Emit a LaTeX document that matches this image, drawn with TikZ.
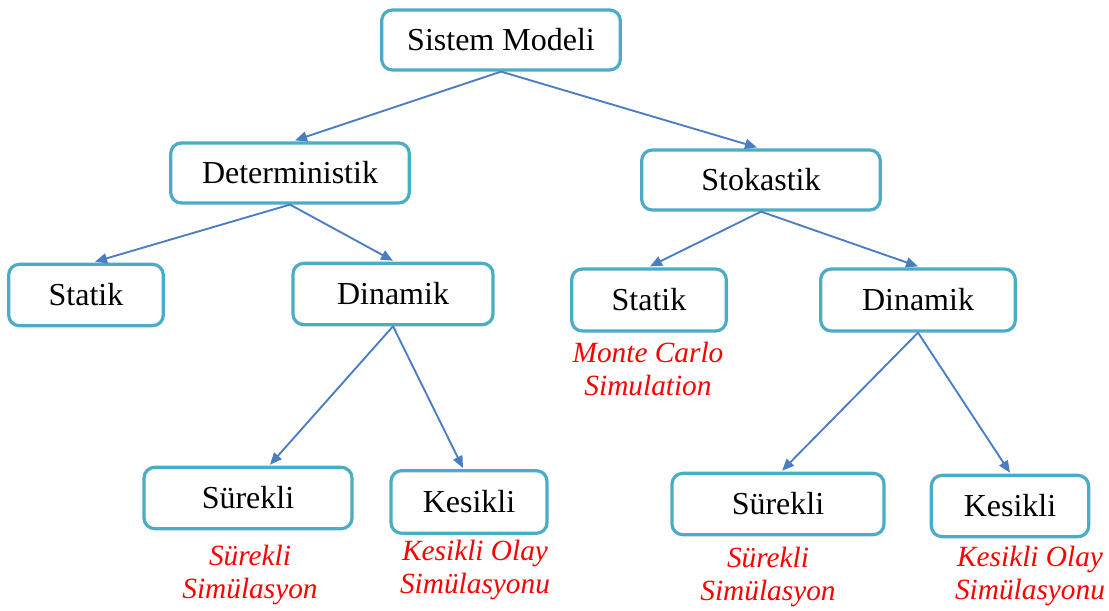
\documentclass[tikz,border=0pt]{standalone}
\usepackage{fontspec}
\setmainfont{Liberation Serif}
\usetikzlibrary{arrows.meta,calc}
\definecolor{boxc}{HTML}{4BACC6}
\definecolor{arrc}{HTML}{4A7EC2}
\definecolor{lblred}{HTML}{FF0000}
\tikzset{
  box/.style={draw=boxc, line width=2.4pt, rounded corners=8pt, fill=white,
    font=\fontsize{24}{28}\selectfont, inner sep=0pt, align=center},
  conn/.style={draw=arrc, line width=1.4pt, -{Triangle[length=9pt,width=7.5pt]}},
  lbl/.style={text=lblred, font=\fontsize{22}{25}\selectfont\itshape, align=center, inner sep=0pt}
}
\begin{document}
\begin{tikzpicture}[x=0.75pt,y=-0.75pt]
\useasboundingbox (0,0) rectangle (1109,610);
% boxes
\node[box, minimum width=179pt, minimum height=45pt] (sm) at (501,40) {Sistem Modeli};
\node[box, minimum width=179pt, minimum height=45pt] (det) at (290,173) {Deterministik};
\node[box, minimum width=179pt, minimum height=45pt] (sto) at (761,180) {Stokastik};
\node[box, minimum width=116pt, minimum height=46pt] (stL) at (86,295) {Statik};
\node[box, minimum width=150pt, minimum height=46pt] (dnL) at (393,294) {Dinamik};
\node[box, minimum width=116pt, minimum height=46.5pt] (stR) at (649,300) {Statik};
\node[box, minimum width=146pt, minimum height=46.5pt] (dnR) at (918,300) {Dinamik};
\node[box, minimum width=156pt, minimum height=46pt] (srL) at (248,498) {Sürekli};
\node[box, minimum width=117pt, minimum height=47pt] (ksL) at (469,502) {Kesikli};
\node[box, minimum width=159pt, minimum height=46pt] (srR) at (778,504) {Sürekli};
\node[box, minimum width=118pt, minimum height=46pt] (ksR) at (1010,506) {Kesikli};
% labels
\node[lbl] (mc) at (648,369) {Monte Carlo\\Simulation};
\node[lbl] (lsL) at (250,575) {Sürekli\\Simülasyon};
\node[lbl] (lkL) at (475,570) {Kesikli Olay\\Simülasyonu};
\node[lbl] (lsR) at (768,577) {Sürekli\\Simülasyon};
\node[lbl] (lkR) at (1030,576) {Kesikli Olay\\Simülasyonu};
% connectors
\draw[conn] (sm.south) -- ($(det.north)+(5,-1)$);
\draw[conn] (sm.south) -- ($(sto.north)+(-4,-1)$);
\draw[conn] (det.south) -- ($(stL.north)+(9,-1)$);
\draw[conn] (det.south) -- ($(dnL.north)+(0,-1)$);
\draw[conn] (sto.south) -- ($(stR.north)+(1,-1)$);
\draw[conn] (sto.south) -- ($(dnR.north)+(0,-1)$);
\draw[conn] (dnL.south) -- ($(srL.north)+(22,-1)$);
\draw[conn] (dnL.south) -- ($(ksL.north)+(-6,-1)$);
\draw[conn] (dnR.south) -- ($(srR.north)+(4,-1)$);
\draw[conn] (dnR.south) -- ($(ksR.north)+(0,-1)$);
\end{tikzpicture}
\end{document}
